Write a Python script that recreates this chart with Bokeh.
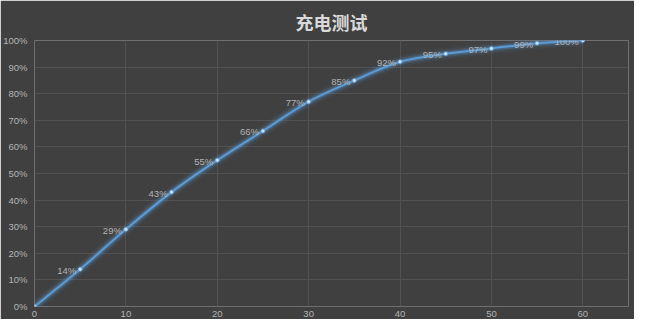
from bokeh.plotting import figure
from bokeh.models import ColumnDataSource, Range1d, FixedTicker, CustomJSTickFormatter
from bokeh.core.properties import value
from bokeh.embed import file_html
from bokeh.resources import INLINE

# ---- data ----
minutes = [0, 5, 10, 15, 20, 25, 30, 35, 40, 45, 50, 55, 60]
charge = [0, 14, 29, 43, 55, 66, 77, 85, 92, 95, 97, 99, 100]
labels = ["0%", "14%", "29%", "43%", "55%", "66%", "77%", "85%", "92%", "95%", "97%", "99%", "100%"]
x_ticks = [0, 10, 20, 30, 40, 50, 60]
y_ticks = [0, 10, 20, 30, 40, 50, 60, 70, 80, 90, 100]
title_text = "充电测试"

BG = "#404040"
GRID = "#525252"
TXT = "#b4b4b4"
BLUE = "#5b9bd5"

p = figure(width=634, height=319, output_backend="svg", toolbar_location=None,
           x_range=Range1d(0, 65), y_range=Range1d(0, 100),
           background_fill_color=BG, border_fill_color=BG,
           min_border_left=30, min_border_right=6, min_border_bottom=8, min_border_top=4,
           outline_line_color=None)

p.title.text = title_text
p.title.align = "center"
p.title.text_font = "Noto Sans CJK SC"
p.title.text_font_size = "18px"
p.title.text_font_style = "bold"
p.title.text_color = "#d9d9d9"
p.title.standoff = 12

for ax in (p.xaxis, p.yaxis):
    ax.axis_line_color = None
    ax.major_tick_line_color = None
    ax.minor_tick_line_color = None
    ax.major_tick_out = 0
    ax.major_tick_in = 0
    ax.minor_tick_out = 0
    ax.minor_tick_in = 0
    ax.major_label_text_color = TXT
    ax.major_label_text_font = "Liberation Sans"
    ax.major_label_text_font_size = "9.5px"
p.xaxis.ticker = FixedTicker(ticks=x_ticks)
p.yaxis.ticker = FixedTicker(ticks=y_ticks)
p.yaxis.formatter = CustomJSTickFormatter(code="return tick + '%';")
p.xaxis.major_label_standoff = 4
p.yaxis.major_label_standoff = 7

p.xgrid.ticker = FixedTicker(ticks=x_ticks)
p.ygrid.ticker = FixedTicker(ticks=y_ticks)
p.xgrid.grid_line_color = GRID
p.ygrid.grid_line_color = GRID

# smooth curve (Catmull-Rom -> cubic bezier control points)
n = len(minutes)
x0, y0, x1, y1, cx0, cy0, cx1, cy1 = [], [], [], [], [], [], [], []
for i in range(n - 1):
    pm = max(i - 1, 0)
    pn = min(i + 2, n - 1)
    x0.append(minutes[i]); y0.append(charge[i])
    x1.append(minutes[i + 1]); y1.append(charge[i + 1])
    cx0.append(minutes[i] + (minutes[i + 1] - minutes[pm]) / 6)
    cy0.append(charge[i] + (charge[i + 1] - charge[pm]) / 6)
    cx1.append(minutes[i + 1] - (minutes[pn] - minutes[i]) / 6)
    cy1.append(charge[i + 1] - (charge[pn] - charge[i]) / 6)
bsrc = ColumnDataSource(dict(x0=x0, y0=y0, x1=x1, y1=y1, cx0=cx0, cy0=cy0, cx1=cx1, cy1=cy1))

for w, a in [(11, 0.08), (7, 0.15), (4.5, 0.25)]:
    p.bezier(x0="x0", y0="y0", x1="x1", y1="y1", cx0="cx0", cy0="cy0", cx1="cx1", cy1="cy1",
             source=bsrc, line_color=BLUE, line_width=w, line_alpha=a)
p.bezier(x0="x0", y0="y0", x1="x1", y1="y1", cx0="cx0", cy0="cy0", cx1="cx1", cy1="cy1",
         source=bsrc, line_color=BLUE, line_width=2)

src = ColumnDataSource(dict(x=minutes, y=charge, t=labels))
p.scatter("x", "y", source=src, size=4, fill_color="#cfe2f3", line_color=BLUE, line_width=0.8)
p.text("x", "y", text="t", source=src, text_align="right", text_baseline="middle",
       x_offset=-4, y_offset=1, text_color=TXT, text_font=value("Liberation Sans"),
       text_font_size="9.5px")

open("out.html", "w").write(file_html(p, INLINE))
